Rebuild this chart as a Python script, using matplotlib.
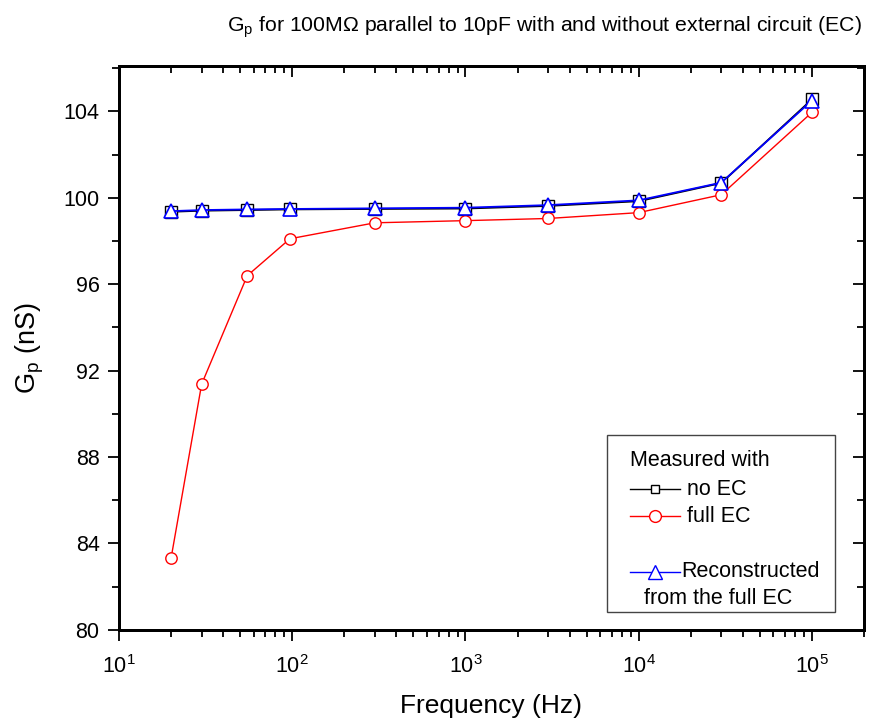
import numpy as np
import matplotlib
matplotlib.use("Agg")
import matplotlib.pyplot as plt
from matplotlib.lines import Line2D
from matplotlib.patches import Rectangle
from matplotlib.ticker import LogLocator, MultipleLocator, NullFormatter

plt.rcParams['font.family'] = ['Liberation Sans', 'DejaVu Sans']
plt.rcParams['mathtext.fontset'] = 'custom'
plt.rcParams['mathtext.rm'] = 'Liberation Sans'
plt.rcParams['mathtext.it'] = 'Liberation Sans:italic'
plt.rcParams['mathtext.bf'] = 'Liberation Sans:bold'

# ---- data ----
freq = [20, 30, 55, 97, 300, 1000, 3000, 10000, 30000, 100000]
gp_no_ec = [99.35, 99.40, 99.43, 99.46, 99.48, 99.50, 99.62, 99.84, 100.68, 104.55]
gp_full_ec = [83.33, 91.37, 96.39, 98.10, 98.84, 98.94, 99.04, 99.31, 100.14, 103.95]
gp_reconstructed = [99.38, 99.43, 99.46, 99.48, 99.51, 99.54, 99.66, 99.88, 100.70, 104.50]

title_text = "G$_\\mathrm{p}$ for 100M\u03a9 parallel to 10pF with and without external circuit (EC)"
xlabel_text = "Frequency (Hz)"
ylabel_text = "G$_\\mathrm{p}$ (nS)"
legend_title = "Measured with"
legend_labels = ["no EC", "full EC", "Reconstructed", " from the full EC"]

W, H = 876, 723
fig = plt.figure(figsize=(W / 100, H / 100), dpi=100)
ax_l, ax_r, ax_t, ax_b = 119, 864, 66, 629.7
ax = fig.add_axes([ax_l / W, 1 - ax_b / H, (ax_r - ax_l) / W, (ax_b - ax_t) / H])

ax.plot(freq, gp_no_ec, color='black', lw=1.3, marker='s', ms=8.2,
        mfc='white', mec='black', mew=1.0, zorder=3)
ax.plot(freq, gp_full_ec, color='red', lw=1.0, marker='o', ms=8.2,
        mfc='white', mec='red', mew=1.0, zorder=4)
ax.plot(freq, gp_reconstructed, color='blue', lw=1.3, marker='^', ms=10,
        mfc='white', mec='blue', mew=1.2, zorder=5)

ax.set_xscale('log')
ax.set_xlim(10, 2e5)
ax.set_ylim(80, 106.1)
ax.yaxis.set_major_locator(MultipleLocator(4))
ax.yaxis.set_minor_locator(MultipleLocator(2))
ax.xaxis.set_major_locator(LogLocator(base=10, numticks=20))
ax.xaxis.set_minor_locator(LogLocator(base=10, subs=np.arange(2, 10), numticks=50))
ax.xaxis.set_minor_formatter(NullFormatter())

for s in ax.spines.values():
    s.set_linewidth(2.0)

ax.tick_params(which='major', direction='out', length=8, width=1.3, labelsize=15.5, pad=6)
ax.tick_params(which='minor', direction='out', length=5, width=1.3)
ax.tick_params(axis='x', which='major', pad=10)

# top/right mirrored ticks pointing inward
axt = ax.twiny()
axt.set_xscale('log')
axt.set_xlim(ax.get_xlim())
axt.xaxis.set_major_locator(LogLocator(base=10, numticks=20))
axt.xaxis.set_minor_locator(LogLocator(base=10, subs=np.arange(2, 10), numticks=50))
axt.tick_params(which='major', direction='in', length=8, width=1.3, labeltop=False)
axt.tick_params(which='minor', direction='in', length=5, width=1.3)
axr = ax.twinx()
axr.set_ylim(ax.get_ylim())
axr.yaxis.set_major_locator(MultipleLocator(4))
axr.yaxis.set_minor_locator(MultipleLocator(2))
axr.tick_params(which='major', direction='in', length=8, width=1.3, labelright=False)
axr.tick_params(which='minor', direction='in', length=5, width=1.3)
for a in (axt, axr):
    for s in a.spines.values():
        s.set_linewidth(2.0)

ax.set_xlabel(xlabel_text, fontsize=19)
ax.xaxis.set_label_coords(0.5, (ax_b - 713) / (ax_b - ax_t))
ax.xaxis.label.set_va('baseline')
ax.set_ylabel(ylabel_text, fontsize=19.5)
ax.yaxis.set_label_coords((46 - ax_l) / (ax_r - ax_l), 0.5)

fig.text(862 / W, 1 - 32 / H, title_text, ha='right', va='baseline', fontsize=15.3)

# ---- legend (manual, in axes fraction) ----
def fx(px):
    return (px - ax_l) / (ax_r - ax_l)

def fy(py):
    return (ax_b - py) / (ax_b - ax_t)

lg_z = 10
ax.add_patch(Rectangle((fx(607), fy(611.7)), fx(835) - fx(607), fy(435) - fy(611.7),
                       transform=ax.transAxes, facecolor='white', edgecolor='#444444',
                       lw=1.0, zorder=lg_z))
ax.text(fx(630), fy(460.7), legend_title, transform=ax.transAxes, fontsize=15.5,
        ha='left', va='center', zorder=lg_z + 1)
entries = [
    ('black', 's', 6, legend_labels[0], 489.3, 687),
    ('red', 'o', 8.5, legend_labels[1], 516, 687),
    ('blue', '^', 10, legend_labels[2], 571.7, 681.5),
]
for col, mk, ms, lab, py, tx in entries:
    ax.add_line(Line2D([fx(630), fx(680)], [fy(py), fy(py)], transform=ax.transAxes,
                       color=col, lw=1.0, zorder=lg_z + 1))
    ax.add_line(Line2D([fx(655)], [fy(py)], transform=ax.transAxes, color=col,
                       marker=mk, ms=ms, mfc='white', mec=col, mew=1.0,
                       zorder=lg_z + 2))
    ax.text(fx(tx), fy(py), lab, transform=ax.transAxes, fontsize=15.5,
            ha='left', va='center', zorder=lg_z + 1)
ax.text(fx(638), fy(598), legend_labels[3], transform=ax.transAxes, fontsize=15.5,
        ha='left', va='center', zorder=lg_z + 1)

fig.savefig('out.png', dpi=100)
